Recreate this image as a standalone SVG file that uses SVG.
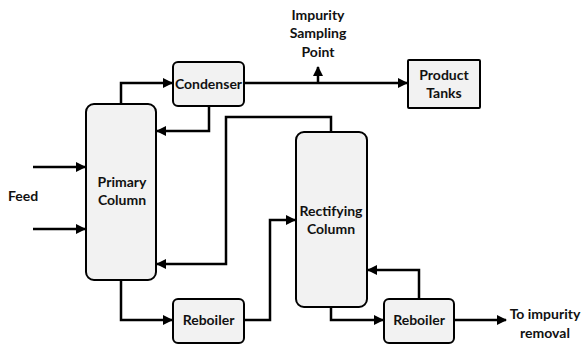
<svg xmlns="http://www.w3.org/2000/svg" width="582" height="345" viewBox="0 0 582 345">
<style>
.box{fill:#f2f2f2;stroke:#000;stroke-width:2}
.ln{fill:none;stroke:#000;stroke-width:2.5;marker-end:url(#ah)}
text{font-family:Lato,"Liberation Sans",sans-serif;font-weight:bold;font-size:14px;fill:#111;text-anchor:middle}
</style>
<defs>
<marker id="ah" viewBox="0 0 10 10" refX="9" refY="5" markerWidth="4" markerHeight="4" orient="auto" markerUnits="strokeWidth">
<path d="M0,0 L10,5 L0,10 z" fill="#000"/>
</marker>
</defs>
<rect width="582" height="345" fill="#fff"/>
<g id="connectors">
<path class="ln" d="M121,104 V83 H172"/>
<path class="ln" d="M209,106 V131 H157"/>
<path class="ln" d="M33,167 H85"/>
<path class="ln" d="M33,229 H85"/>
<path class="ln" d="M331,132 V117 H226 V264 H157"/>
<path class="ln" d="M121,280 V320 H172"/>
<path class="ln" d="M244,320 H270 V220 H295"/>
<path class="ln" d="M331,307 V320 H383"/>
<path class="ln" d="M419,299 V270 H368"/>
<path class="ln" d="M454,320 H506"/>
<path class="ln" d="M244,83 H407"/>
<path class="ln" d="M318,83 V67"/>
</g>
<g id="condenser"><rect class="box" x="173" y="62" width="71" height="44" rx="5"/><text x="208.5" y="88.5">Condenser</text></g>
<g id="primary-column"><rect class="box" x="86" y="104" width="70" height="176" rx="8"/><text x="122" y="187">Primary</text><text x="122" y="205">Column</text></g>
<g id="rectifying-column"><rect class="box" x="296" y="132" width="71" height="175" rx="8"/><text x="331" y="216">Rectifying</text><text x="331" y="234">Column</text></g>
<g id="reboiler1"><rect class="box" x="173" y="299" width="71" height="44" rx="5"/><text x="208.5" y="325">Reboiler</text></g>
<g id="reboiler2"><rect class="box" x="384" y="299" width="70" height="44" rx="5"/><text x="419" y="325">Reboiler</text></g>
<g id="product-tanks"><rect class="box" x="408" y="60" width="72" height="48" rx="1"/><text x="444" y="80">Product</text><text x="444" y="98">Tanks</text></g>
<g id="sampling-label"><text x="318" y="20">Impurity</text><text x="318" y="38">Sampling</text><text x="318" y="57">Point</text></g>
<g id="feed-label"><text x="23" y="201">Feed</text></g>
<g id="removal-label"><text x="545" y="319">To impurity</text><text x="545" y="338">removal</text></g>
</svg>
